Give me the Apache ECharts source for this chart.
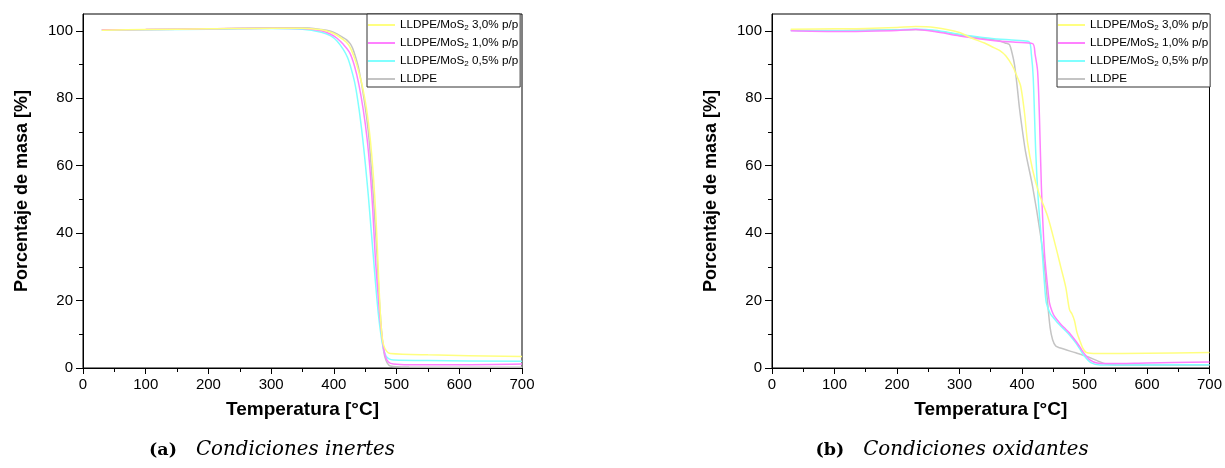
<!DOCTYPE html>
<html><head><meta charset="utf-8">
<script src="https://cdn.jsdelivr.net/npm/echarts@6/dist/echarts.min.js"></script>
<style>html,body{margin:0;padding:0;background:#fff}#c{width:1225px;height:468px}</style>
</head><body><div id="c"></div>
<script>
// ---------- data ----------
const seriesNames = ['LLDPE/MoS2 3,0% p/p', 'LLDPE/MoS2 1,0% p/p', 'LLDPE/MoS2 0,5% p/p', 'LLDPE'];
const xTicks = [0, 100, 200, 300, 400, 500, 600, 700];
const yTicks = [0, 20, 40, 60, 80, 100];
const yMinorTicks = [10, 30, 50, 70, 90];
const xAxisName = 'Temperatura [°C]';
const yAxisName = 'Porcentaje de masa [%]';
const captionTags = ['(a)', '(b)'];
const captionTexts = ['Condiciones inertes', 'Condiciones oxidantes'];

// (a) inert conditions: [T °C, mass %]
const inert30 = [[30,100.2],[100,100.4],[200,100.6],[300,100.8],[350,100.8],[380,100.3],[395,99.6],[405,98.7],[415,97.4],[420,96.6],[425,95.4],[430,93.4],[435,90.8],[440,87.6],[445,84],[452,77],[458,68],[463,57],[467,45],[470,33],[473,20],[476,11],[479,7],[484,5],[490,4.3],[550,3.9],[700,3.4]];
const inert10 = [[30,100.3],[100,100.4],[200,100.6],[300,100.8],[350,100.7],[380,100],[395,99],[405,97.8],[415,96],[425,93.6],[433,89.5],[440,84],[447,76.5],[453,68],[458,58],[462,47],[466,33],[470,23],[474,14],[478,7.5],[482,3.5],[487,1.8],[495,1.2],[520,1.0],[600,1.0],[700,1.2]];
const inert05 = [[30,100.2],[100,100.3],[200,100.5],[300,100.7],[350,100.5],[380,99.6],[395,98.5],[405,97],[415,94.5],[422,92],[428,88.5],[434,84],[440,77],[446,68],[451,59],[455,51],[459,42],[463,33],[467,24],[471,16],[475,10],[479,5.8],[483,3.6],[488,2.7],[495,2.4],[550,2.2],[700,2.0]];
const inertPE = [[30,100.3],[100,100.4],[200,100.6],[300,100.9],[350,100.9],[380,100.4],[395,99.9],[405,99.1],[415,98],[420,97.4],[426,96.2],[430,94.8],[435,92],[440,88.5],[448,80],[455,70],[459,61],[463,51],[466,42],[469,33],[472,22],[475,13.5],[478,7],[481,3.5],[485,1.5],[490,0.6],[520,0.3],[700,0.2]];

// (b) oxidising conditions: [T °C, mass %]
const oxid30 = [[30,100.5],[100,100.6],[150,100.7],[200,101.0],[230,101.3],[260,101.0],[300,99.5],[320,97.8],[340,96.4],[352,95.3],[364,94.2],[374,92.6],[385,89.5],[392,86.5],[398,83.5],[404,75.7],[409,66.8],[417,58.8],[427,51.9],[441,45],[454,36],[462,30],[470,24],[476,17.3],[480,16],[484,14],[488,10.5],[492,8.4],[497,6],[503,4.6],[520,4.3],[600,4.4],[700,4.6]];
const oxid10 = [[30,100.0],[100,99.8],[150,99.9],[200,100.1],[230,100.4],[260,99.8],[300,98.5],[337,97.5],[360,97.0],[390,96.6],[417,96.2],[421,93],[425,88],[428,74],[431,54],[436,34],[441,24],[444,19.3],[448,16.8],[452,15.3],[462,13],[470,11.5],[476,10.4],[486,8],[492,6.4],[500,4.2],[508,2.5],[520,1.5],[540,1.3],[600,1.5],[700,1.8]];
const oxid05 = [[30,100.1],[100,100.0],[150,100.1],[200,100.3],[230,100.5],[260,100.2],[300,99],[337,98],[360,97.6],[390,97.2],[411,96.8],[415,93],[418,86],[422,64],[426,50],[431,38],[436,25],[439,19.3],[445,16.2],[450,15],[460,12.8],[470,11],[476,9.8],[486,7.5],[492,5.8],[500,3.5],[510,1.6],[525,0.9],[600,0.9],[700,1.0]];
const oxidPE = [[30,100.2],[100,100.1],[150,100.2],[200,100.3],[230,100.4],[260,100],[300,98.8],[337,97.8],[360,97.2],[375,96.3],[380,95.9],[384,93.5],[388,90],[392,84],[396,77],[401,70],[406,63.8],[417,53.8],[430,39],[436,30],[441,19.3],[445,12],[449,8.4],[454,6.5],[460,6.0],[486,4.5],[503,3.5],[520,2.2],[534,1.2],[560,0.9],[700,0.9]];

// ---------- styling ----------
const colors = {'LLDPE/MoS2 3,0% p/p':'#ffff80','LLDPE/MoS2 1,0% p/p':'#ff80ff','LLDPE/MoS2 0,5% p/p':'#80ffff','LLDPE':'#c4c4c4'};
const FONT = 'Liberation Sans';
const grids = [
  {left: 83, right: 703, top: 14, bottom: 100},
  {left: 772, right: 14, top: 14, bottom: 100}
];

const chart = echarts.init(document.getElementById('c'), null, {renderer: 'canvas'});

const xAxes = grids.map((g, i) => ({
  type: 'value', gridIndex: i, min: xTicks[0], max: xTicks[xTicks.length - 1], interval: xTicks[1] - xTicks[0],
  name: xAxisName, nameLocation: 'middle', nameGap: 32,
  nameTextStyle: {fontFamily: FONT, fontWeight: 'bold', fontSize: 19, color: '#000'},
  axisLine: {show: true, lineStyle: {color: '#000', width: 1}},
  axisTick: {show: true, inside: false, length: 6, lineStyle: {color: '#000'}},
  minorTick: {show: true, splitNumber: 2, length: 4, lineStyle: {color: '#000'}},
  axisLabel: {fontFamily: FONT, fontSize: 15, color: '#000', margin: 9},
  splitLine: {show: false}, minorSplitLine: {show: false}
}));

const yAxes = [];
grids.forEach((g, i) => {
  yAxes.push({
    type: 'value', gridIndex: i, min: 0, max: 105, position: 'left',
    name: yAxisName, nameLocation: 'middle', nameGap: 52,
    nameTextStyle: {fontFamily: FONT, fontWeight: 'bold', fontSize: 18, color: '#000'},
    axisLine: {show: true, lineStyle: {color: '#000', width: 1}},
    axisTick: {show: true, inside: false, length: 7, customValues: yTicks, lineStyle: {color: '#000'}},
    axisLabel: {fontFamily: FONT, fontSize: 15, color: '#000', margin: 10, customValues: yTicks},
    splitLine: {show: false}
  });
  yAxes.push({
    type: 'value', gridIndex: i, min: 0, max: 105, position: 'left', offset: 0,
    axisLine: {show: false},
    axisTick: {show: true, inside: false, length: 4, customValues: yMinorTicks, lineStyle: {color: '#000'}},
    axisLabel: {show: false},
    splitLine: {show: false}
  });
});

const panels = [
  {'LLDPE': inertPE, 'LLDPE/MoS2 0,5% p/p': inert05, 'LLDPE/MoS2 1,0% p/p': inert10, 'LLDPE/MoS2 3,0% p/p': inert30},
  {'LLDPE': oxidPE, 'LLDPE/MoS2 0,5% p/p': oxid05, 'LLDPE/MoS2 1,0% p/p': oxid10, 'LLDPE/MoS2 3,0% p/p': oxid30}
];
const drawOrder = ['LLDPE', 'LLDPE/MoS2 0,5% p/p', 'LLDPE/MoS2 1,0% p/p', 'LLDPE/MoS2 3,0% p/p'];
const series = [];
panels.forEach((p, i) => {
  drawOrder.forEach(name => {
    series.push({
      type: 'line', name, xAxisIndex: i, yAxisIndex: i * 2, data: p[name],
      showSymbol: false, symbol: 'none', smooth: 0.3, color: colors[name],
      lineStyle: {color: colors[name], width: 1.5}, emphasis: {disabled: true}
    });
  });
});

const legends = [367, 1057].map(l => ({
  data: seriesNames, orient: 'vertical', left: l, top: 14,
  icon: 'rect', itemWidth: 27, itemHeight: 2, itemGap: 4,
  padding: [4, 2, 1, 1], borderColor: '#333', borderWidth: 1, backgroundColor: '#fff',
  selectedMode: false,
  formatter: n => n.replace('MoS2', 'MoS{sub|2}'),
  textStyle: {fontFamily: FONT, fontSize: 11.7, color: '#000', lineHeight: 14,
    rich: {sub: {fontFamily: FONT, fontSize: 8, lineHeight: 8, verticalAlign: 'bottom', color: '#000'}}}
}));

const captionX = [272, 952];
const graphic = captionX.map((x, i) => ({
  type: 'text', x, y: 450,
  style: {
    text: '{b|' + captionTags[i] + '}{it|' + captionTexts[i] + '}',
    align: 'center', verticalAlign: 'middle',
    rich: {
      b: {fontFamily: 'DejaVu Serif', fontWeight: 'bold', fontSize: 17.5, padding: [0, 19, 0, 0], fill: '#000'},
      it: {fontFamily: 'DejaVu Serif', fontStyle: 'italic', fontSize: 19.8, fill: '#000'}
    }
  }
}));

chart.setOption({
  animation: false,
  backgroundColor: '#fff',
  grid: grids.map(g => Object.assign({show: true, borderColor: '#000', borderWidth: 1, backgroundColor: 'transparent'}, g)),
  xAxis: xAxes, yAxis: yAxes, series, legend: legends, graphic
});
</script></body></html>
